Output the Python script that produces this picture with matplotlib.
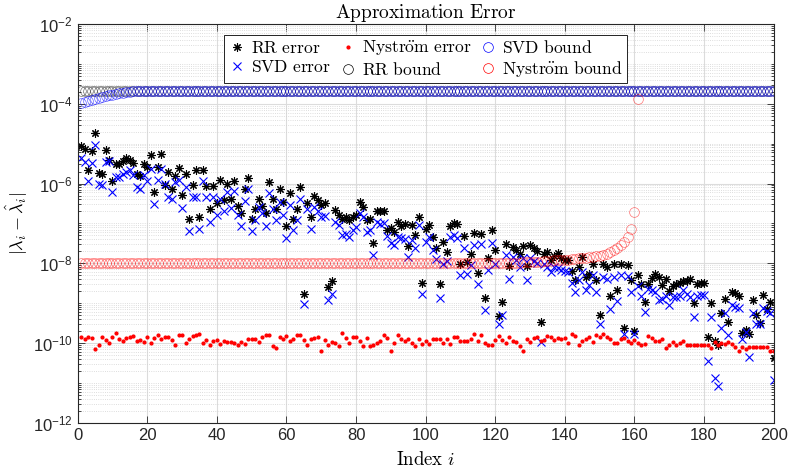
import numpy as np
import matplotlib
matplotlib.use('Agg')
import matplotlib.pyplot as plt
from matplotlib.ticker import FixedLocator, LogLocator, NullFormatter

# log10 of the errors / bounds, index 1..200
rr_err_log = [
    -5.06, -5.14, -5.65, -5.18, -4.74, -5.73, -5.75, -5.16, -5.40, -5.93,
    -5.51, -5.50, -5.43, -5.37, -5.40, -5.48, -5.77, -5.82, -5.51, -5.58,
    -5.29, -6.21, -5.58, -5.25, -6.04, -5.71, -6.13, -5.82, -5.62, -6.29,
    -5.77, -6.88, -6.04, -5.65, -6.84, -5.66, -6.07, -6.65, -6.07, -6.49,
    -5.92, -6.42, -6.00, -6.38, -5.93, -6.57, -6.74, -6.13, -5.85, -6.88,
    -6.65, -6.38, -6.57, -6.75, -5.96, -6.38, -6.63, -6.13, -6.46, -7.07,
    -6.25, -6.88, -6.63, -6.10, -8.76, -6.50, -6.84, -6.32, -6.42, -6.54,
    -6.50, -8.60, -8.45, -6.67, -6.80, -6.90, -6.84, -6.92, -6.84, -6.80,
    -6.46, -6.59, -6.92, -6.88, -7.49, -6.69, -6.69, -6.69, -7.17, -7.11,
    -7.21, -6.96, -7.07, -7.02, -7.57, -7.05, -7.30, -6.85, -8.50, -7.15,
    -7.05, -7.35, -7.63, -8.53, -7.47, -7.72, -7.07, -6.99, -7.02, -8.03,
    -7.32, -7.97, -7.78, -7.24, -8.24, -7.26, -8.86, -7.86, -7.17, -7.68,
    -9.33, -8.97, -7.52, -8.08, -7.59, -7.68, -7.76, -7.57, -8.08, -7.55,
    -7.63, -7.70, -9.48, -7.78, -7.72, -7.93, -7.83, -7.74, -7.88, -7.93,
    -7.93, -8.19, -8.41, -8.09, -7.84, -8.34, -8.26, -8.01, -8.41, -9.29,
    -8.03, -8.09, -8.83, -8.03, -8.66, -8.01, -9.62, -8.05, -8.41, -9.69,
    -8.30, -8.51, -8.97, -8.53, -8.38, -8.28, -8.34, -8.55, -8.39, -8.70,
    -8.58, -8.51, -8.50, -8.44, -8.45, -8.39, -8.99, -8.53, -8.50, -8.50,
    -9.86, -8.99, -9.95, -10.06, -9.25, -8.89, -9.48, -8.72, -8.75, -8.83,
    -9.75, -9.67, -9.77, -8.93, -9.31, -9.50, -8.80, -9.14, -8.97, -10.37,
]

svd_err_log = [
    -5.37, -5.46, -5.94, -5.48, -5.04, -6.02, -6.04, -5.47, -5.44, -6.21,
    -5.83, -5.83, -5.75, -5.70, -5.67, -5.79, -6.08, -6.13, -5.78, -5.93,
    -5.63, -6.52, -5.92, -5.63, -6.02, -6.35, -6.40, -5.96, -5.90, -6.61,
    -6.08, -7.19, -6.34, -6.35, -7.14, -5.94, -6.35, -6.97, -6.35, -6.79,
    -6.40, -6.69, -6.21, -6.62, -6.18, -6.79, -7.07, -6.44, -6.13, -7.19,
    -6.92, -6.60, -6.75, -7.07, -6.23, -6.65, -6.92, -6.46, -6.80, -7.36,
    -6.55, -7.17, -6.92, -6.40, -9.03, -6.65, -7.13, -6.60, -6.69, -6.84,
    -6.82, -8.93, -8.78, -6.96, -7.05, -7.30, -7.26, -7.34, -7.17, -7.09,
    -6.74, -6.84, -7.21, -7.17, -7.80, -6.96, -7.02, -6.99, -7.32, -7.49,
    -7.55, -7.34, -7.36, -7.38, -7.84, -7.42, -7.63, -7.05, -8.78, -7.47,
    -7.34, -7.66, -7.90, -8.86, -8.03, -7.95, -7.33, -7.30, -7.36, -8.30,
    -7.61, -8.26, -8.05, -7.55, -8.53, -7.52, -9.18, -8.18, -7.49, -8.01,
    -9.53, -9.31, -7.80, -8.39, -7.84, -7.93, -8.09, -7.86, -8.41, -7.88,
    -7.95, -8.00, -9.98, -8.01, -8.10, -8.22, -8.09, -8.13, -8.16, -8.19,
    -8.22, -8.50, -8.72, -8.43, -8.22, -8.68, -8.55, -8.30, -8.72, -9.52,
    -8.35, -8.40, -9.15, -8.35, -8.94, -8.30, -9.77, -8.32, -8.72, -9.77,
    -8.56, -8.81, -9.22, -8.64, -8.68, -8.72, -8.93, -8.89, -8.81, -9.04,
    -8.84, -8.84, -8.81, -8.68, -8.76, -8.84, -9.34, -8.81, -8.79, -8.79,
    -10.46, -9.34, -10.87, -11.07, -9.63, -9.26, -9.80, -9.05, -9.09, -9.13,
    -9.89, -9.73, -10.36, -9.25, -9.52, -9.52, -9.13, -9.21, -9.25, -10.92,
]

nys_err_log = [
    -9.84, -9.91, -9.86, -9.87, -10.15, -10.05, -9.84, -9.92, -10.00, -9.85,
    -9.75, -9.91, -9.95, -9.87, -9.86, -9.83, -9.96, -9.92, -9.97, -9.86,
    -10.01, -9.88, -9.81, -9.91, -9.86, -9.86, -9.92, -10.05, -9.81, -9.79,
    -9.99, -9.91, -9.82, -9.81, -9.77, -10.00, -9.92, -10.06, -9.94, -9.93,
    -10.02, -9.94, -9.97, -9.97, -10.00, -10.04, -9.97, -10.02, -9.90, -9.91,
    -9.91, -9.97, -9.84, -9.79, -9.79, -10.07, -10.12, -9.86, -9.90, -9.83,
    -9.96, -9.91, -9.81, -9.81, -9.92, -10.04, -9.91, -9.88, -9.86, -10.21,
    -9.92, -10.04, -9.97, -9.99, -10.08, -9.76, -9.88, -10.01, -9.84, -9.84,
    -9.96, -10.07, -9.88, -10.08, -10.04, -10.00, -9.94, -9.81, -9.88, -10.20,
    -10.01, -9.81, -9.90, -9.95, -9.91, -10.01, -10.07, -9.91, -10.02, -9.94,
    -10.02, -9.90, -9.91, -9.90, -10.01, -9.90, -10.02, -9.86, -9.86, -9.94,
    -9.94, -9.94, -9.91, -9.77, -9.96, -9.81, -10.01, -10.05, -10.04, -9.92,
    -9.83, -9.92, -10.01, -9.86, -9.94, -9.97, -10.07, -10.19, -9.91, -9.97,
    -9.87, -9.84, -9.96, -9.92, -9.82, -9.86, -9.92, -9.88, -9.90, -9.87,
    -10.01, -9.77, -9.83, -10.04, -9.96, -9.91, -9.84, -9.98, -9.81, -9.86,
    -9.78, -9.84, -9.91, -10.00, -9.99, -9.91, -9.87, -9.96, -10.01, -9.92,
    -10.01, -10.04, -10.02, -9.82, -9.88, -9.96, -9.96, -9.91, -10.12, -10.04,
    -9.97, -10.04, -10.01, -9.96, -10.06, -10.05, -10.06, -10.06, -10.06, -10.04,
    -10.06, -10.12, -9.97, -10.04, -10.01, -10.02, -9.97, -10.02, -10.09, -10.19,
    -10.11, -10.14, -10.09, -10.09, -10.09, -10.11, -10.11, -10.09, -10.20, -10.20,
]

rr_bound_log = [-3.69] * 200

svd_bound_log = [-3.99, -3.96, -3.93, -3.90, -3.88, -3.85, -3.83, -3.81,
                 -3.79, -3.77, -3.75, -3.74, -3.72, -3.71, -3.70] + [-3.69] * 185

# Nystrom bound only exists up to index 161
nys_bound_log = [-8.00] * 125 + [
    -7.99, -7.99, -7.98, -7.98, -7.97, -7.97, -7.96, -7.96, -7.95, -7.95,
    -7.94, -7.93, -7.93, -7.92, -7.91, -7.91, -7.90, -7.89, -7.88, -7.87,
    -7.86, -7.85, -7.84, -7.82, -7.81, -7.79, -7.76, -7.72, -7.67, -7.62,
    -7.55, -7.47, -7.34, -7.14, -6.72, -3.88,
]

plt.rcParams['font.family'] = ['Liberation Sans', 'DejaVu Sans']
plt.rcParams['mathtext.fontset'] = 'cm'

idx = np.arange(1, len(rr_err_log) + 1)
idx_nb = np.arange(1, len(nys_bound_log) + 1)

fig = plt.figure(figsize=(7.88, 4.74), dpi=100)
ax = fig.add_axes([0.0986, 0.1082, 0.8832, 0.8411])

ax.semilogy(idx, 10.0 ** np.array(rr_err_log), ls='none', marker=(8, 2, 0),
            color='k', ms=6, mew=0.8, label=r'$\mathrm{RR\ error}$')
ax.semilogy(idx, 10.0 ** np.array(svd_err_log), ls='none', marker='x',
            color='#0000ff', ms=5.5, mew=0.8, label=r'$\mathrm{SVD\ error}$')
ax.semilogy(idx, 10.0 ** np.array(nys_err_log), ls='none', marker='.',
            color='#ff0000', ms=4, label=r'$\mathrm{Nystr\ddot{o}m\ error}$')
ax.semilogy(idx, 10.0 ** np.array(rr_bound_log), ls='none', marker='o', mfc='none',
            mec='k', ms=7, mew=0.5, alpha=0.55, label=r'$\mathrm{RR\ bound}$')
ax.semilogy(idx, 10.0 ** np.array(svd_bound_log), ls='none', marker='o', mfc='none',
            mec='#0000ff', ms=7, mew=0.5, alpha=0.6, label=r'$\mathrm{SVD\ bound}$')
ax.semilogy(idx_nb, 10.0 ** np.array(nys_bound_log), ls='none', marker='o', mfc='none',
            mec='#ff0000', ms=7, mew=0.5, alpha=0.55, label=r'$\mathrm{Nystr\ddot{o}m\ bound}$')

ax.set_xlim(0, 200)
ax.set_ylim(1e-12, 1e-2)
ax.set_xticks(np.arange(0, 201, 20))
ax.yaxis.set_major_locator(FixedLocator([1e-12, 1e-10, 1e-8, 1e-6, 1e-4, 1e-2]))
ax.yaxis.set_minor_locator(LogLocator(base=10, subs=np.arange(1, 10), numticks=100))
ax.yaxis.set_minor_formatter(NullFormatter())

ax.set_axisbelow(True)
ax.grid(which='major', color='#dcdcdc', lw=0.8, ls='-')
ax.grid(which='minor', axis='y', color='#d2d2d2', lw=0.6, ls=':')

ax.tick_params(which='both', direction='in', top=True, right=True,
               colors='#262626', width=0.6, labelsize=12)
ax.tick_params(which='major', length=5)
ax.tick_params(which='minor', length=2.5)
for sp in ax.spines.values():
    sp.set_color('#262626')
    sp.set_linewidth(0.8)

ax.set_title(r'$\mathrm{Approximation\ Error}$', fontsize=14, pad=4)
ax.set_xlabel(r'$\mathrm{Index}\ i$', fontsize=13.5, labelpad=6)
ax.set_ylabel(r'$|\lambda_i-\hat{\lambda}_i|$', fontsize=13, labelpad=2)

leg = ax.legend(loc='upper center', bbox_to_anchor=(0.5, 0.9724), borderaxespad=0,
                ncol=3, fontsize=12.6, frameon=True, fancybox=False, framealpha=1,
                edgecolor='k', handlelength=1.0, handletextpad=0.3,
                columnspacing=0.45, borderpad=0.25, labelspacing=0.15)
leg.get_frame().set_linewidth(0.6)
for h in leg.legend_handles:
    h.set_alpha(1)

fig.savefig('out.png', dpi=100)
